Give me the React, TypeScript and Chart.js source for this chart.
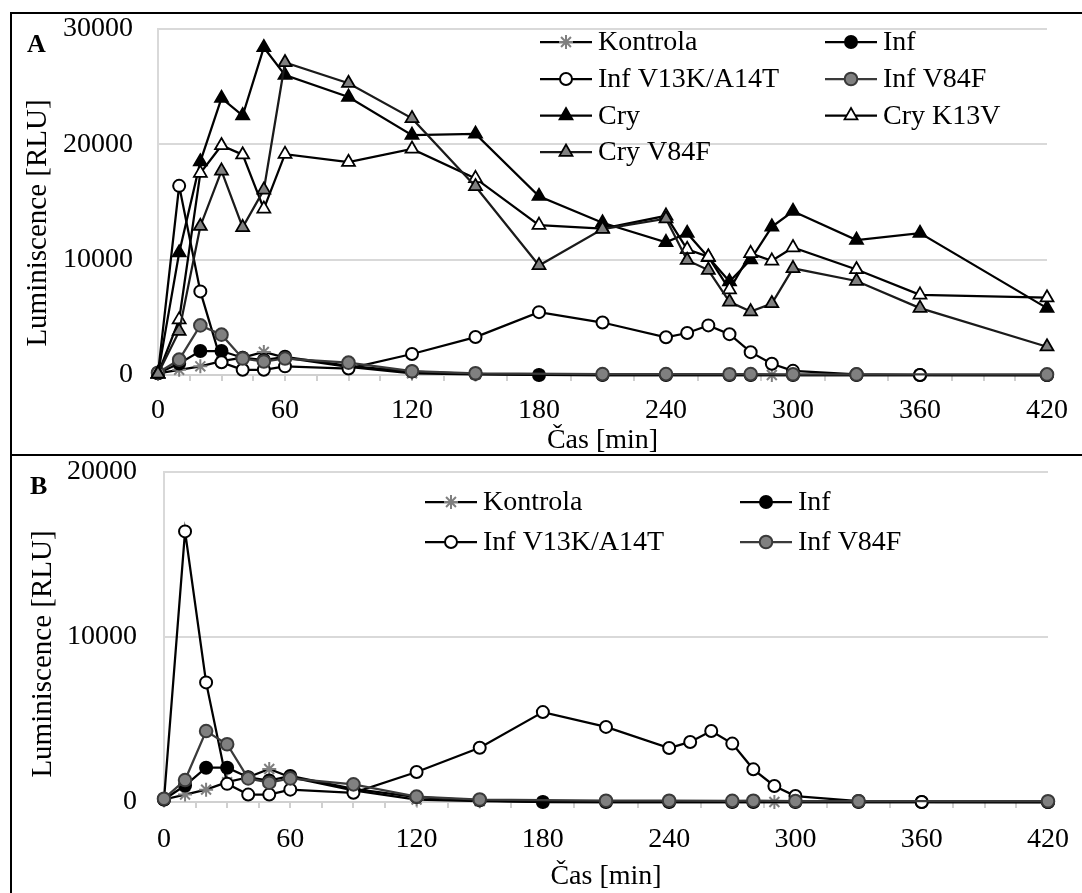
import React, { useEffect, useRef } from 'react';
import { Chart, registerables } from 'chart.js';

Chart.register(...registerables);

const FONT = "'Liberation Serif', 'Times New Roman', serif";

// ---- data ----
const times = [0, 10, 20, 30, 40, 50, 60, 90, 120, 150, 180, 210, 240, 250, 260, 270, 280, 290, 300, 330, 360, 420];
const kontrola = [150, 450, 750, 1200, 1500, 2000, 1500, 700, 150, 50, 0, 0, 0, null, null, 0, 0, 0, 0, 0, 0, 0];
const inf = [150, 1000, 2080, 2080, 1500, 1300, 1580, 800, 300, 100, 0, 0, 0, null, null, 0, 0, null, 0, 0, 0, 0];
const infV13K = [150, 16400, 7250, 1100, 450, 450, 750, 560, 1820, 3290, 5450, 4550, 3270, 3640, 4300, 3540, 1980, 970, 360, 60, 0, 0];
const infV84F = [200, 1330, 4300, 3500, 1430, 1170, 1430, 1070, 330, 150, null, 80, 80, null, null, 70, 80, null, 60, 50, null, 50];
const cry = [100, 10600, 18500, 24000, 22500, 28400, 26000, 24100, 20800, 20900, 15500, 13200, 11500, 12300, 10200, 8100, 10000, 12850, 14200, 11700, 12300, 5800];
const cryK13V = [100, 4800, 17500, 19900, 19100, 14400, 19150, 18450, 19600, 17050, 13000, 12700, 13800, 10900, 10250, 7400, 10550, 9900, 11050, 9150, 6950, 6700];
const cryV84F = [100, 3800, 12900, 17700, 12800, 16050, 27100, 25300, 22250, 16350, 9500, 12650, 13550, 9950, 9100, 6350, 5500, 6200, 9250, 8150, 5800, 2450];

const seriesNames = ['Kontrola', 'Inf', 'Inf V13K/A14T', 'Inf V84F', 'Cry', 'Cry K13V', 'Cry V84F'];
const seriesValues = [kontrola, inf, infV13K, infV84F, cry, cryK13V, cryV84F];
const xTickLabels = [0, 60, 120, 180, 240, 300, 360, 420];
const xTitle = 'Čas [min]';
const yTitle = 'Luminiscence [RLU]';
const panelNames = ['A', 'B'];

// ---- styles ----
type Style = { shape: 'circle' | 'triangle' | 'star'; fill: string; stroke: string; line: string; r: number; bw: number };
const styles: Style[] = [
  { shape: 'star', fill: '#7f7f7f', stroke: '#7f7f7f', line: '#000000', r: 7, bw: 2 },
  { shape: 'circle', fill: '#000000', stroke: '#000000', line: '#000000', r: 6, bw: 2 },
  { shape: 'circle', fill: '#ffffff', stroke: '#000000', line: '#000000', r: 6, bw: 2 },
  { shape: 'circle', fill: '#808080', stroke: '#3a3a3a', line: '#3a3a3a', r: 6.3, bw: 2 },
  { shape: 'triangle', fill: '#000000', stroke: '#000000', line: '#000000', r: 7.5, bw: 1.75 },
  { shape: 'triangle', fill: '#ffffff', stroke: '#000000', line: '#000000', r: 7.5, bw: 1.75 },
  { shape: 'triangle', fill: '#808080', stroke: '#000000', line: '#1a1a1a', r: 7.5, bw: 1.75 },
];

function drawMarker(ctx: CanvasRenderingContext2D, s: Style, x: number, y: number) {
  ctx.save();
  ctx.lineWidth = s.bw;
  ctx.strokeStyle = s.stroke;
  ctx.fillStyle = s.fill;
  ctx.beginPath();
  if (s.shape === 'circle') {
    ctx.arc(x, y, s.r, 0, Math.PI * 2);
    ctx.fill();
    ctx.stroke();
  } else if (s.shape === 'triangle') {
    let rad = 0;
    ctx.moveTo(x + Math.sin(rad) * s.r, y - Math.cos(rad) * s.r);
    rad += (2 * Math.PI) / 3;
    ctx.lineTo(x + Math.sin(rad) * s.r, y - Math.cos(rad) * s.r);
    rad += (2 * Math.PI) / 3;
    ctx.lineTo(x + Math.sin(rad) * s.r, y - Math.cos(rad) * s.r);
    ctx.closePath();
    ctx.fill();
    ctx.stroke();
  } else {
    const r = s.r;
    ctx.moveTo(x - r, y); ctx.lineTo(x + r, y);
    ctx.moveTo(x, y - r); ctx.lineTo(x, y + r);
    const d = r * Math.SQRT1_2;
    ctx.moveTo(x - d, y - d); ctx.lineTo(x + d, y + d);
    ctx.moveTo(x - d, y + d); ctx.lineTo(x + d, y - d);
    ctx.stroke();
  }
  ctx.restore();
}

const decorPlugin = {
  id: 'decor',
  afterDraw(chart: any, _args: any, opts: any) {
    const ctx: CanvasRenderingContext2D = chart.ctx;
    ctx.save();
    ctx.fillStyle = '#000';
    ctx.font = `bold 26px ${FONT}`;
    ctx.textAlign = 'left';
    ctx.textBaseline = 'middle';
    ctx.fillText(opts.panel, opts.panelX, opts.panelY);

    ctx.save();
    ctx.translate(opts.yTitleX, opts.yTitleY);
    ctx.rotate(-Math.PI / 2);
    ctx.font = `29px ${FONT}`;
    ctx.textAlign = 'center';
    ctx.textBaseline = 'middle';
    ctx.fillText(yTitle, 0, 0);
    ctx.restore();

    (opts.items as { i: number; x: number; y: number }[]).forEach((it) => {
      const s = styles[it.i];
      ctx.strokeStyle = s.line;
      ctx.lineWidth = 2.25;
      ctx.beginPath();
      ctx.moveTo(it.x, it.y);
      ctx.lineTo(it.x + 52, it.y);
      ctx.stroke();
      drawMarker(ctx, s, it.x + 26, it.y);
      ctx.fillStyle = '#000';
      ctx.font = `28px ${FONT}`;
      ctx.textAlign = 'left';
      ctx.textBaseline = 'middle';
      ctx.fillText(seriesNames[it.i], it.x + 58, it.y + 1);
    });
    ctx.restore();
  },
};

type PanelCfg = {
  n: number;
  width: number;
  height: number;
  yMax: number;
  yAxisWidth: number;
  xAxisHeight: number;
  padTop: number;
  padRight: number;
  yTickPad: number;
  xTickPad: number;
  xTitlePadBottom: number;
  decor: any;
};

function zeroPad(s: any) {
  s.paddingTop = 0;
  s.paddingBottom = 0;
  s.paddingLeft = 0;
  s.paddingRight = 0;
}

function ChartPanel({ cfg, top }: { cfg: PanelCfg; top: number }) {
  const ref = useRef<HTMLCanvasElement | null>(null);
  useEffect(() => {
    if (!ref.current) return;
    const n = cfg.n;
    const datasets = seriesValues.slice(0, n).map((vals, i) => {
      const s = styles[i];
      return {
        label: seriesNames[i],
        data: times
          .map((t, j) => (vals[j] == null ? null : { x: t, y: vals[j] as number }))
          .filter((p) => p !== null),
        borderColor: s.line,
        borderWidth: 2.25,
        backgroundColor: s.fill,
        pointStyle: s.shape,
        pointRadius: s.r,
        pointHoverRadius: s.r,
        pointBackgroundColor: s.fill,
        pointBorderColor: s.stroke,
        pointBorderWidth: s.bw,
        tension: 0,
        fill: false,
        clip: false,
        order: n - 1 - i,
      };
    });
    const chart = new Chart(ref.current, {
      type: 'line',
      data: { datasets: datasets as any },
      plugins: [decorPlugin as any],
      options: {
        responsive: false,
        animation: false,
        events: [],
        layout: { padding: { left: 0, right: cfg.padRight, top: cfg.padTop, bottom: 0 } },
        plugins: {
          legend: { display: false },
          tooltip: { enabled: false },
          decor: cfg.decor,
        } as any,
        scales: {
          x: {
            type: 'linear',
            min: 0,
            max: 420,
            afterFit: (s: any) => {
              s.height = cfg.xAxisHeight;
              zeroPad(s);
            },
            ticks: {
              stepSize: 15,
              autoSkip: false,
              maxRotation: 0,
              minRotation: 0,
              padding: cfg.xTickPad,
              color: '#000',
              font: { family: FONT, size: 28 },
              callback: (v: any) => (xTickLabels.includes(Number(v)) ? String(v) : ''),
            },
            grid: { display: true, drawOnChartArea: false, drawTicks: true, tickLength: 6, color: '#d0d0d0', lineWidth: 2 },
            border: { display: true, color: '#d0d0d0', width: 2 },
            title: {
              display: true,
              text: xTitle,
              color: '#000',
              font: { family: FONT, size: 28, lineHeight: 1 },
              padding: { top: 0, bottom: cfg.xTitlePadBottom },
            },
          },
          y: {
            type: 'linear',
            min: 0,
            max: cfg.yMax,
            afterFit: (s: any) => {
              s.width = cfg.yAxisWidth;
              zeroPad(s);
            },
            ticks: {
              stepSize: 10000,
              padding: cfg.yTickPad,
              color: '#000',
              font: { family: FONT, size: 28 },
              callback: (v: any) => String(v),
            },
            grid: { color: '#d9d9d9', lineWidth: 2, drawTicks: false },
            border: { display: true, color: '#d9d9d9', width: 2 },
          },
        },
      } as any,
    });
    return () => chart.destroy();
  }, [cfg]);
  return (
    <canvas
      ref={ref}
      width={cfg.width}
      height={cfg.height}
      style={{ position: 'absolute', left: 0, top, width: cfg.width, height: cfg.height }}
    />
  );
}

const cfgA: PanelCfg = {
  n: 7,
  width: 1082,
  height: 455,
  yMax: 30000,
  yAxisWidth: 158,
  xAxisHeight: 80,
  padTop: 29,
  padRight: 35,
  yTickPad: 25,
  xTickPad: 13,
  xTitlePadBottom: 0,
  decor: {
    panel: panelNames[0],
    panelX: 27,
    panelY: 45,
    yTitleX: 38,
    yTitleY: 223,
    items: [
      { i: 0, x: 540, y: 42 },
      { i: 1, x: 825, y: 42 },
      { i: 2, x: 540, y: 79 },
      { i: 3, x: 825, y: 79 },
      { i: 4, x: 540, y: 115.5 },
      { i: 5, x: 825, y: 115.5 },
      { i: 6, x: 540, y: 152 },
    ],
  },
};

const cfgB: PanelCfg = {
  n: 4,
  width: 1082,
  height: 438,
  yMax: 20000,
  yAxisWidth: 164,
  xAxisHeight: 91,
  padTop: 17,
  padRight: 34,
  yTickPad: 27,
  xTickPad: 15,
  xTitlePadBottom: 2,
  decor: {
    panel: panelNames[1],
    panelX: 30,
    panelY: 32,
    yTitleX: 43,
    yTitleY: 199,
    items: [
      { i: 0, x: 425, y: 47 },
      { i: 1, x: 740, y: 47 },
      { i: 2, x: 425, y: 87 },
      { i: 3, x: 740, y: 87 },
    ],
  },
};

export default function App() {
  const line: React.CSSProperties = { position: 'absolute', background: '#000' };
  return (
    <div style={{ position: 'absolute', left: 0, top: 0, width: 1082, height: 893, overflow: 'hidden', background: '#fff' }}>
      <ChartPanel cfg={cfgA} top={0} />
      <ChartPanel cfg={cfgB} top={455} />
      <div style={{ ...line, left: 10, top: 12, width: 1072, height: 2 }} />
      <div style={{ ...line, left: 10, top: 12, width: 2, height: 881 }} />
      <div style={{ ...line, left: 10, top: 454, width: 1072, height: 2 }} />
    </div>
  );
}
